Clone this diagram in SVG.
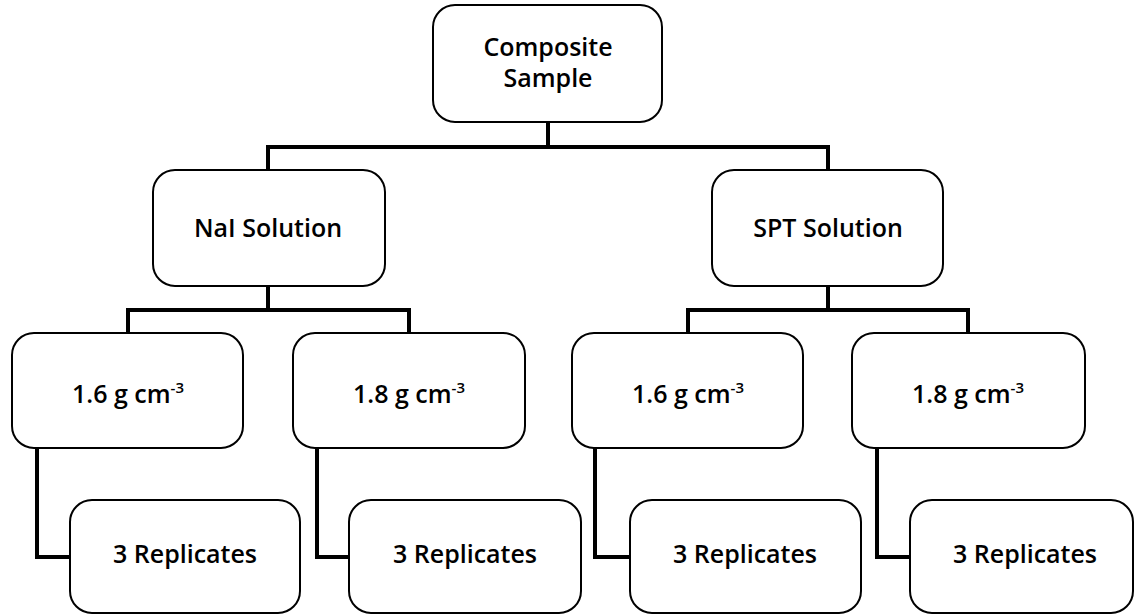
<svg xmlns="http://www.w3.org/2000/svg" width="1135" height="615" viewBox="0 0 1135 615">
<style>
.box{fill:#fff;stroke:#000;stroke-width:2}
.lbl{font-family:"Open Sans","Liberation Sans",sans-serif;font-weight:600;font-size:25px;fill:#000;text-anchor:middle}
.sup{font-size:15px}
.conn{fill:none;stroke:#000;stroke-width:4;stroke-linejoin:miter}
</style>
<rect width="1135" height="615" fill="#fff"/>
<g id="connectors">
<path class="conn" d="M548 122V147M268 170V147H828V170"/>
<path class="conn" d="M268 286V310M128 333V310H409V333"/>
<path class="conn" d="M828 286V310M688 333V310H968V333"/>
<path class="conn" d="M37 448V557H70"/>
<path class="conn" d="M317 448V557H349"/>
<path class="conn" d="M595 448V557H630"/>
<path class="conn" d="M877 448V557H910"/>
</g>
<g id="composite"><rect class="box" x="433" y="5" width="229" height="117" rx="22"/><text class="lbl" x="548" y="56">Composite</text><text class="lbl" x="548" y="87">Sample</text></g>
<g id="nai"><rect class="box" x="153" y="170" width="232" height="116" rx="22"/><text class="lbl" x="268" y="237">NaI Solution</text></g>
<g id="spt"><rect class="box" x="712" y="170" width="231" height="116" rx="22"/><text class="lbl" x="828" y="237">SPT Solution</text></g>
<g id="nai16"><rect class="box" x="12" y="333" width="231" height="115" rx="22"/><text class="lbl" x="128" y="403">1.6 g cm<tspan class="sup" dy="-10">-3</tspan></text></g>
<g id="nai18"><rect class="box" x="293" y="333" width="232" height="115" rx="22"/><text class="lbl" x="409" y="403">1.8 g cm<tspan class="sup" dy="-10">-3</tspan></text></g>
<g id="spt16"><rect class="box" x="572" y="333" width="231" height="115" rx="22"/><text class="lbl" x="688" y="403">1.6 g cm<tspan class="sup" dy="-10">-3</tspan></text></g>
<g id="spt18"><rect class="box" x="852" y="333" width="233" height="115" rx="22"/><text class="lbl" x="968" y="403">1.8 g cm<tspan class="sup" dy="-10">-3</tspan></text></g>
<g id="rep1"><rect class="box" x="70" y="500" width="230" height="113" rx="22"/><text class="lbl" x="185" y="563">3 Replicates</text></g>
<g id="rep2"><rect class="box" x="349" y="500" width="232" height="113" rx="22"/><text class="lbl" x="465" y="563">3 Replicates</text></g>
<g id="rep3"><rect class="box" x="630" y="500" width="231" height="113" rx="22"/><text class="lbl" x="745" y="563">3 Replicates</text></g>
<g id="rep4"><rect class="box" x="910" y="500" width="223" height="113" rx="22"/><text class="lbl" x="1025" y="563">3 Replicates</text></g>
</svg>
